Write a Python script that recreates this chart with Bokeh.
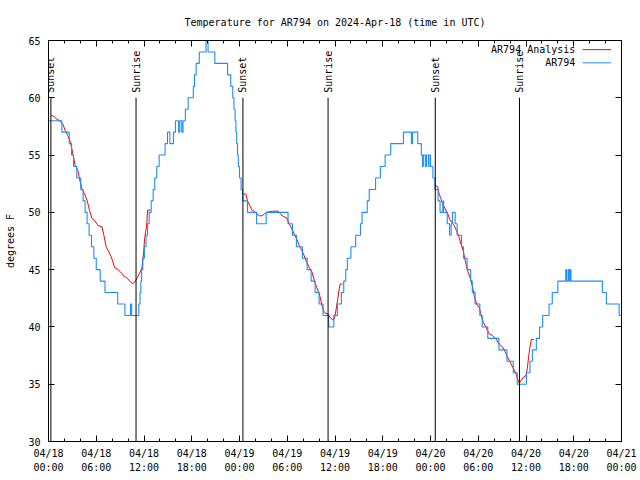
import math
from bokeh.plotting import figure
from bokeh.models import Range1d, FixedTicker, LinearAxis, Label
from bokeh.embed import file_html
from bokeh.resources import INLINE
from bokeh.core.properties import value

# x = hours since 2024-04-18 00:00 UTC
obs_hours = [0.0, 1.68, 2.6, 2.9, 3.15, 3.55, 4.05, 4.35, 4.6, 4.85, 5.1, 5.4, 5.7, 6.0, 6.5, 7.1, 8.7, 9.6,
             10.3, 10.45, 11.35, 11.5, 11.6, 11.7, 11.85, 12.05, 12.25, 12.45, 12.65, 12.9, 13.15, 13.35,
             13.6, 13.9, 14.65, 14.95, 15.25, 15.7, 15.95, 16.35, 16.5, 16.75, 16.9, 17.2, 17.55, 18.2,
             18.35, 18.55, 18.95, 19.8, 20.05, 20.9, 22.5, 22.9, 23.15, 23.3, 23.45, 23.55, 23.65, 23.75,
             23.85, 24.0, 24.2, 24.4, 25.0, 26.15, 27.35, 30.1, 30.65, 31.15, 31.9, 32.5, 33.0, 33.5,
             34.0, 34.5, 35.2, 35.85, 36.3, 36.8, 37.1, 37.35, 37.55, 38.0, 38.6, 39.2, 39.4, 40.05,
             40.3, 41.1, 41.7, 42.3, 43.0, 44.6, 45.6, 45.75, 46.4, 46.85, 47.0, 47.1, 47.35, 47.5,
             47.75, 47.8, 48.0, 48.3, 48.55, 48.95, 49.2, 49.55, 49.65, 50.1, 50.4, 50.6, 50.75, 51.1,
             51.35, 51.9, 52.15, 52.6, 53.05, 53.25, 53.6, 54.2, 54.5, 55.2, 56.6, 57.6, 58.4, 58.9,
             60.05, 60.5, 60.8, 61.3, 61.7, 62.1, 62.9, 63.3, 64.0, 65.0, 65.1, 65.3, 65.4, 65.55,
             65.65, 69.6, 70.1, 71.7, 72.0]
obs_temp = [58, 57, 56, 55, 54, 53, 52, 51, 50, 49, 48, 47, 46, 45, 44, 43, 42, 41,
            42, 41, 42, 43, 44, 45, 46, 47, 48, 49, 50, 51, 52, 53,
            54, 55, 56, 57, 56, 57, 58, 57, 58, 57, 58, 59, 60, 61,
            62, 63, 64, 65, 64, 63, 62, 61, 60, 59, 58, 57, 56, 55,
            54, 53, 52, 51, 50, 49, 50, 49, 48, 47, 46, 45, 44, 43,
            42, 41, 40, 41, 42, 43, 44, 45, 46, 47, 48, 49, 50, 51,
            52, 53, 54, 55, 56, 57, 56, 57, 56, 55, 54, 55, 54, 55,
            54, 55, 54, 53, 52, 51, 50, 51, 50, 49, 48, 49, 50, 49,
            48, 47, 46, 45, 44, 43, 42, 41, 40, 39, 38, 37, 36, 35,
            36, 37, 38, 39, 40, 41, 42, 43, 44, 45, 44, 45, 44, 45,
            44, 43, 42, 41, 41]

ana1_hours = [0.34, 0.67, 0.97, 1.38, 1.8, 2.1, 2.43, 2.77, 3.06, 3.36, 3.69, 3.9, 4.2, 4.53, 4.87, 5.16,
              5.45, 5.79, 6.21, 6.71, 6.96, 7.26, 7.55, 7.89, 8.31, 8.64, 9.06, 9.48, 9.9, 10.32, 10.61,
              10.82, 11.16, 11.45, 11.6, 11.75, 11.95, 12.08, 12.34, 12.45, 12.84]
ana1_temp = [58.45, 58.4, 58.16, 58.0, 57.7, 57.15, 56.7, 56.1, 55.1, 54.1, 53.65, 52.9, 52.05, 51.6, 51.0, 50.15,
             49.5, 49.3, 48.85, 48.75, 48.0, 46.95, 46.6, 46.1, 45.2, 45.05, 44.8, 44.45, 44.25, 43.9, 43.8,
             43.9, 44.3, 44.7, 44.9, 45.2, 46.5, 47.7, 48.9, 50.2, 50.2]

ana2_hours = [24.46, 24.8, 25.0, 25.3, 25.55, 25.85, 26.14, 26.47, 26.81, 27.1, 27.4, 28.15, 28.87, 29.2,
              29.62, 29.91, 30.25, 30.59, 30.88, 31.17, 31.51, 31.85, 32.14, 32.43, 32.77, 33.1, 33.4,
              33.69, 34.03, 34.32, 34.53, 34.78, 35.08, 35.37, 35.71, 35.92, 36.13, 36.34, 36.54, 36.65,
              36.96]
ana2_temp = [51.6, 51.6, 51.0, 50.6, 50.2, 50.1, 49.9, 49.7, 49.7, 49.85, 50.0, 50.1, 50.1, 49.8,
             49.6, 49.55, 49.0, 48.55, 48.1, 47.7, 47.1, 46.65, 46.2, 45.65, 45.2, 44.8, 44.05,
             43.45, 42.9, 42.0, 41.45, 41.2, 41.15, 40.85, 40.6, 40.7, 41.5, 42.4, 43.4, 43.75,
             43.75]

ana3_hours = [48.59, 48.88, 49.09, 49.3, 49.51, 49.85, 50.14, 50.43, 50.68, 50.98, 51.27, 51.52, 51.82,
              52.11, 52.36, 52.66, 52.95, 53.2, 53.5, 53.79, 54.12, 54.33, 54.63, 54.96, 55.38, 55.8,
              56.22, 56.64, 57.06, 57.4, 57.69, 57.98, 58.32, 58.66, 58.95, 59.16, 59.37, 59.66, 60.0,
              60.17, 60.33, 60.46, 60.67, 61.0]
ana3_temp = [52.35, 52.25, 51.6, 51.2, 50.75, 50.3, 49.95, 49.35, 49.15, 48.85, 48.4, 48.0, 47.25,
             46.65, 45.8, 44.9, 44.35, 43.75, 42.75, 42.0, 41.7, 41.15, 40.4, 40.0, 39.4, 39.25,
             38.95, 38.5, 38.25, 37.8, 37.35, 36.95, 36.5, 36.05, 35.45, 35.1, 35.3, 35.6, 35.75,
             36.4, 37.4, 38.1, 38.9, 38.9]

sun_hours = [0.3, 11.0, 24.43, 35.13, 48.6, 59.18]
sun_labels = ["Sunset", "Sunrise", "Sunset", "Sunrise", "Sunset", "Sunrise"]

tick_hours = [0, 6, 12, 18, 24, 30, 36, 42, 48, 54, 60, 66, 72]
tick_dates = ["04/18", "04/18", "04/18", "04/18", "04/19", "04/19", "04/19", "04/19",
              "04/20", "04/20", "04/20", "04/20", "04/21"]
tick_times = ["00:00", "06:00", "12:00", "18:00", "00:00", "06:00", "12:00", "18:00",
              "00:00", "06:00", "12:00", "18:00", "00:00"]
minor_hours = list(range(0, 73, 2))
y_ticks = [30, 35, 40, 45, 50, 55, 60, 65]

FONT = "DejaVu Sans Mono"
FS = "10px"
RED = "#ff0000"
BLUE = "#1a8cff"

p = figure(width=640, height=480, output_backend="svg", toolbar_location=None,
           x_range=Range1d(0, 72), y_range=Range1d(30, 65),
           min_border_left=48, min_border_right=19, min_border_top=40, min_border_bottom=39,
           title="Temperature for AR794 on 2024-Apr-18 (time in UTC)")
p.grid.visible = False
p.outline_line_color = "black"
p.background_fill_color = "white"
p.border_fill_color = "white"

p.title.text_font = FONT
p.title.text_font_size = FS
p.title.text_font_style = "normal"
p.title.text_color = "black"
p.title.align = "center"
p.title.standoff = 25

xt = FixedTicker(ticks=tick_hours, minor_ticks=minor_hours)
yt = FixedTicker(ticks=y_ticks, minor_ticks=[])

def style_axis(ax):
    ax.axis_line_color = "black"
    ax.major_tick_line_color = "black"
    ax.minor_tick_line_color = "black"
    ax.major_tick_in = 6
    ax.major_tick_out = 0
    ax.minor_tick_in = 3
    ax.minor_tick_out = 0
    ax.major_label_text_font = FONT
    ax.major_label_text_font_size = FS
    ax.major_label_text_color = "black"

xa = p.xaxis[0]
xa.ticker = xt
style_axis(xa)
xa.major_label_overrides = {h: f"{d}\n{t}" for h, d, t in zip(tick_hours, tick_dates, tick_times)}
xa.major_label_standoff = 6
xa.major_label_text_line_height = 1.35

ya = p.yaxis[0]
ya.ticker = yt
style_axis(ya)
ya.major_label_standoff = 8
ya.axis_label = "degrees F"
ya.axis_label_text_font = FONT
ya.axis_label_text_font_size = FS
ya.axis_label_text_font_style = "normal"
ya.axis_label_text_color = "black"
ya.axis_label_standoff = 9

for ticker, ticks, side in ((xt, tick_hours, "above"), (yt, y_ticks, "right")):
    ax = LinearAxis(ticker=ticker)
    style_axis(ax)
    ax.major_label_overrides = {t: "" for t in ticks}
    ax.major_label_standoff = 0
    p.add_layout(ax, side)

# analysis (red), observations (blue)
for hx, ty in ((ana1_hours, ana1_temp), (ana2_hours, ana2_temp), (ana3_hours, ana3_temp)):
    p.line(hx, ty, line_color=RED, line_width=1)
p.step(obs_hours, obs_temp, mode="after", line_color=BLUE, line_width=1.1)

# sunrise / sunset markers
p.segment(x0=sun_hours, y0=[30] * len(sun_hours), x1=sun_hours, y1=[60] * len(sun_hours),
          line_color="black", line_width=1)
p.text(x=sun_hours, y=[60] * len(sun_hours), text=sun_labels, angle=math.pi / 2,
       text_align="left", text_baseline="middle", y_offset=-5,
       text_font=value(FONT), text_font_size=FS, text_color="black")

# legend (gnuplot style: text right-aligned, sample to the right)
leg_names = ["AR794 Analysis", "AR794"]
leg_colors = [RED, BLUE]
leg_y = [64.2, 63.05]
for name, col, yy in zip(leg_names, leg_colors, leg_y):
    p.add_layout(Label(x=66.2, y=yy, text=name, text_align="right", text_baseline="middle",
                       text_font=FONT, text_font_size=FS, text_color="black"))
    p.segment(x0=[67.1], y0=[yy], x1=[70.7], y1=[yy], line_color=col, line_width=1)

open("out.html", "w").write(file_html(p, INLINE))
